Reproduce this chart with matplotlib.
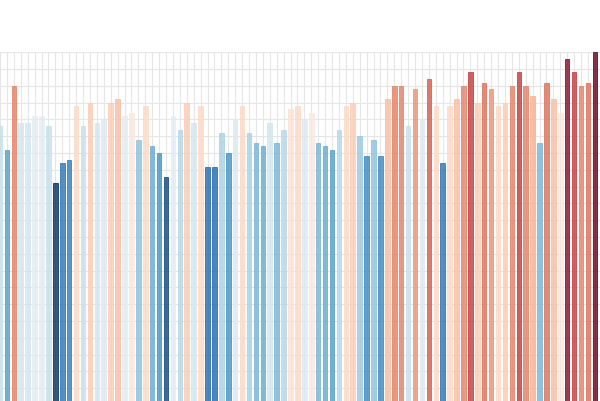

# Bar chart of yearly values, coloured like warming stripes

import matplotlib
matplotlib.use("Agg")
import matplotlib.pyplot as plt
import matplotlib.colors as mcolors
import numpy as np

# ---------------------------------------------------------------------
# Data (one value per bar, left to right)
# ---------------------------------------------------------------------

values = [8.3, 7.6, 9.5, 8.4, 8.4, 8.6, 8.6, 8.3, 6.6, 7.2,
          7.3, 8.9, 8.3, 9.0, 8.4, 8.5, 9.0, 9.1, 8.6, 8.7,
          7.9, 8.9, 7.7, 7.5, 6.8, 8.6, 8.2, 9.0, 8.4, 8.9,
          7.1, 7.1, 8.1, 7.5, 8.5, 8.9, 8.1, 7.8, 7.7, 8.4,
          7.8, 8.2, 8.8, 8.9, 8.5, 8.7, 7.8, 7.7, 7.6, 8.2,
          8.9, 9.0, 8.0, 7.4, 7.9, 7.4, 9.1, 9.5, 9.5, 8.3,
          9.4, 8.5, 9.7, 8.9, 7.2, 8.9, 9.1, 9.5, 9.9, 9.0,
          9.6, 9.4, 8.9, 9.0, 9.5, 9.9, 9.5, 9.2, 7.8, 9.6,
          9.1, 8.7, 10.3, 9.9, 9.5, 9.6, 10.5]

positions = np.arange(len(values))
colour_centre = 8.65

# ---------------------------------------------------------------------
# Colours: RdBu_r without the near-white middle, so bars just below the
# centre read light blue and those just above read light pink
# ---------------------------------------------------------------------

base = plt.get_cmap("RdBu_r")
cmap = mcolors.ListedColormap(np.vstack([base(np.linspace(0.0, 0.46, 128)),
                                         base(np.linspace(0.54, 1.0, 128))]))
norm = mcolors.TwoSlopeNorm(vcenter=colour_centre, vmin=min(values), vmax=max(values))
bar_colours = cmap(norm(values))

# ---------------------------------------------------------------------
# Plot
# ---------------------------------------------------------------------

fig = plt.figure(figsize=(6.0, 4.01), dpi=100)
ax = fig.add_axes([0.0, -0.0102, 1.0, 0.8798])

ax.bar(positions, values, width=0.66, color=bar_colours,
       edgecolor=bar_colours, linewidth=0.7, alpha=0.8, zorder=2)

ax.set_xlim(0.163, 86.74)
ax.set_ylim(0, 10.5)
ax.set_xticks(positions)
ax.set_yticks(np.arange(0, 10.51, 0.5))
ax.grid(True, color="#e6e6e6", linewidth=0.8, zorder=0)
ax.set_axisbelow(True)
ax.tick_params(length=0, labelbottom=False, labelleft=False)
for side in ax.spines.values():
    side.set_visible(False)

fig.savefig("out.png", dpi=100)
